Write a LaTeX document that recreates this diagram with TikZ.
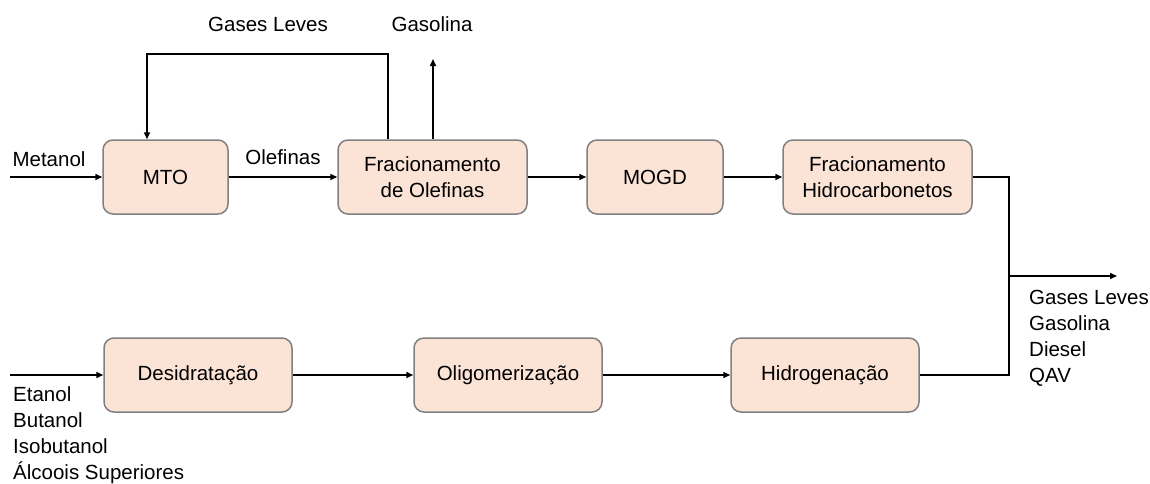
\documentclass[tikz,border=0pt]{standalone}
\usepackage{fontspec}
\setmainfont{Liberation Sans}
\usetikzlibrary{arrows.meta}

\definecolor{procfill}{RGB}{251,227,214}
\definecolor{procline}{RGB}{128,128,128}
\newcommand{\diafont}{\fontsize{20.5}{26}\selectfont}

\tikzset{
  proc/.style={draw=procline, fill=procfill, line width=1.5pt, rounded corners=10pt,
    minimum height=74pt, align=center, inner sep=2pt},
  flow/.style={-{Triangle[length=7pt,width=6pt]}, line width=1.5pt},
  pipe/.style={line width=1.5pt},
  lbl/.style={inner sep=0pt, align=left},
}

\begin{document}
\begin{tikzpicture}[x=1pt, y=-1pt, every node/.style={font=\diafont}]
  \useasboundingbox (0,0) rectangle (1150,483);

  % linha do metanol
  \node[proc, minimum width=125pt] (mto) at (165.5,177) {MTO};
  \node[proc, minimum width=189pt] (fracol) at (432.5,177) {Fracionamento\\de Olefinas};
  \node[proc, minimum width=136pt] (mogd) at (655,177) {MOGD};
  \node[proc, minimum width=189pt] (frachc) at (877.5,177) {Fracionamento\\Hidrocarbonetos};

  % linha dos alcoois
  \node[proc, minimum width=188pt] (desid) at (198,375) {Desidratação};
  \node[proc, minimum width=188pt] (oligo) at (508,375) {Oligomerização};
  \node[proc, minimum width=188pt] (hidro) at (825,375) {Hidrogenação};

  \coordinate (metin) at (10,177);
  \coordinate (alcin) at (10,375);
  \coordinate (fbtop) at (388,54);
  \coordinate (fbleft) at (147,54);
  \coordinate (gastop) at (433,59);
  \coordinate (jn) at (1009,276);
  \coordinate (out) at (1117,276);

  \draw[flow] (metin) -- (mto);
  \draw[flow] (mto) -- (fracol);
  \draw[flow] (fracol.north -| fbtop) -- (fbtop) -- (fbleft) -- (mto.north -| fbleft);
  \draw[flow] (fracol.north -| gastop) -- (gastop);
  \draw[flow] (fracol) -- (mogd);
  \draw[flow] (mogd) -- (frachc);

  \draw[flow] (alcin) -- (desid);
  \draw[flow] (desid) -- (oligo);
  \draw[flow] (oligo) -- (hidro);

  \draw[pipe] (frachc.east) -| (jn);
  \draw[pipe] (hidro.east) -| (jn);
  \draw[flow] (jn) -- (out);

  \node (metanol) at (49,159.5) {Metanol};
  \node (olefinas) at (283,157) {Olefinas};
  \node (gasesleves) at (268,24) {Gases Leves};
  \node (gasolina) at (432,24) {Gasolina};
  \node[lbl, anchor=west] (produtos) at (1029,338.5) {Gases Leves\\Gasolina\\Diesel\\QAV};
  \node[lbl, anchor=north west] (alcoois) at (13,386.5) {Etanol\\Butanol\\Isobutanol\\Álcoois Superiores};
\end{tikzpicture}
\end{document}
